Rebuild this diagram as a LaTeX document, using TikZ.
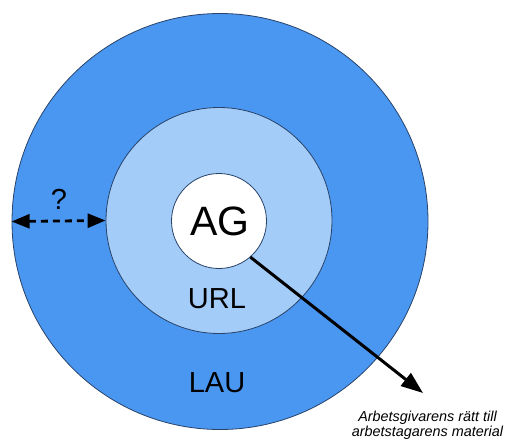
\documentclass[tikz,border=0pt]{standalone}
\usepackage{fontspec}
\setmainfont{Liberation Sans}
\usetikzlibrary{arrows.meta}
\definecolor{outerblue}{RGB}{74,151,242}
\definecolor{midblue}{RGB}{163,205,248}
\definecolor{rim}{RGB}{40,66,105}
\tikzset{
  ring/.style={circle, draw=rim, line width=0.8pt, inner sep=0pt},
  lbl/.style={font=\fontsize{29}{32}\selectfont, inner sep=0pt},
  conn/.style={line width=3pt, -{Triangle[length=22pt,width=16pt]}},
  dimarrow/.style={line width=2.8pt, dash pattern=on 7pt off 5pt, {Triangle[length=18pt,width=14pt]}-{Triangle[length=18pt,width=14pt]}}
}
\begin{document}
\begin{tikzpicture}[x=1pt,y=-1pt]
\useasboundingbox (0,0) rectangle (505,439);
\fill[white] (0,0) rectangle (505,439);
\node[ring, fill=outerblue, minimum size=416pt] (lau) at (220,221.5) {};
\node[ring, fill=midblue, minimum size=226pt] (url) at (219,220.5) {};
\node[ring, fill=white, minimum size=95pt] (ag) at (219,221) {};
\node[font=\fontsize{41}{44}\selectfont, inner sep=0pt] (agt) at (220,221) {AG};
\node[lbl] (urlt) at (217,299) {URL};
\node[lbl] (laut) at (217,383) {LAU};
\node[lbl] (q) at (59,199) {?};
\coordinate (dl) at (lau.west);
\coordinate (dr) at (url.west);
\draw[dimarrow] (dl) -- (dr);
\coordinate (tip) at (423,393);
\node[font=\fontsize{14.4}{14.5}\selectfont\itshape, align=center, inner sep=0pt] (note) at (427.5,425.5) {Arbetsgivarens rätt till\\arbetstagarens material};
\draw[conn] (ag.-49) -- (tip);
\end{tikzpicture}
\end{document}
